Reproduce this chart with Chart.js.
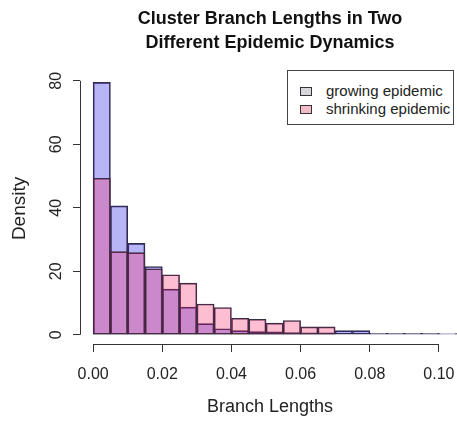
<!DOCTYPE html>
<html>
<head>
<meta charset="utf-8">
<script src="https://cdn.jsdelivr.net/npm/chart.js@4/dist/chart.umd.min.js"></script>
<style>
  html, body { margin: 0; padding: 0; background: #ffffff; overflow: hidden; }
  #wrap { position: relative; width: 457px; height: 422px; overflow: hidden; }
  canvas { position: absolute; left: 0; top: 0; }
  #legend {
    position: absolute; left: 287px; top: 70px; width: 167px; height: 55px;
    border: 1px solid #444; box-sizing: border-box; background: #fff;
    font-family: 'Liberation Sans', Arial, sans-serif; font-size: 15px; color: #222;
  }
  .row { position: absolute; left: 12px; height: 18px; line-height: 18px; white-space: nowrap; }
  .sw { display: inline-block; width: 10px; height: 7px; border: 1px solid #333; margin-right: 14px; vertical-align: middle; position: relative; top: -1px; }
</style>
</head>
<body>
<div id="wrap">
  <canvas id="c" width="460" height="422" style="width:460px;height:422px"></canvas>
  <div id="legend">
    <div class="row" style="top:11px"><span class="sw" style="background:#d8d8dc"></span>growing epidemic</div>
    <div class="row" style="top:29px"><span class="sw" style="background:#f3bccb"></span>shrinking epidemic</div>
  </div>
</div>
<script>
// ---- data (bin width 0.005) ----
const binMids = [0.0025, 0.0075, 0.0125, 0.0175, 0.0225, 0.0275, 0.0325, 0.0375, 0.0425, 0.0475, 0.0525,
                 0.0575, 0.0625, 0.0675, 0.0725, 0.0775, 0.0825, 0.0875, 0.0925, 0.0975, 0.1025, 0.1075];
const growingDensity   = [79.5, 40.6, 28.8, 21.5, 14.4, 8.7, 3.5, 1.9, 1.3, 1.0, 0.9,
                          0.7, 0.6, 0.6, 1.3, 1.3, 0.5, 0.5, 0.5, 0.5, 0.4, 0.4];
const shrinkingDensity = [49.3, 26.2, 25.9, 20.8, 18.9, 16.3, 9.7, 8.6, 5.2, 4.9, 3.7,
                          4.5, 2.5, 2.5];
const seriesNames = ['growing epidemic', 'shrinking epidemic'];
const xTickValues = [0.00, 0.02, 0.04, 0.06, 0.08, 0.10];
const yTickValues = [0, 20, 40, 60, 80];
const titleLines = ['Cluster Branch Lengths in Two', 'Different Epidemic Dynamics'];
const xTitle = 'Branch Lengths';
const yTitle = 'Density';

const FONT = "'Liberation Sans', Arial, Helvetica, sans-serif";

function toPoints(vals) {
  return vals.map((v, i) => ({ x: binMids[i], y: v }));
}

const axisLines = {
  id: 'axisLines',
  afterDraw(chart) {
    const { ctx, chartArea, scales: { x, y } } = chart;
    ctx.save();
    ctx.strokeStyle = '#333';
    ctx.lineWidth = 1;
    ctx.beginPath();
    const xb = Math.round(chartArea.bottom) + 0.5;
    ctx.moveTo(x.getPixelForValue(xTickValues[0]), xb);
    ctx.lineTo(x.getPixelForValue(xTickValues[xTickValues.length - 1]), xb);
    const yl = Math.round(chartArea.left) + 0.5;
    ctx.moveTo(yl, y.getPixelForValue(yTickValues[0]));
    ctx.lineTo(yl, y.getPixelForValue(yTickValues[yTickValues.length - 1]));
    ctx.stroke();
    ctx.restore();
  }
};

new Chart(document.getElementById('c'), {
  type: 'bar',
  data: {
    datasets: [
      {
        label: seriesNames[0],
        data: toPoints(growingDensity),
        backgroundColor: 'rgba(40,30,230,0.33)',
        borderColor: '#342e44',
        borderWidth: 1,
        borderSkipped: false,
        grouped: false,
        barPercentage: 1,
        categoryPercentage: 1,
        order: 2
      },
      {
        label: seriesNames[1],
        data: toPoints(shrinkingDensity),
        backgroundColor: 'rgba(250,20,95,0.28)',
        borderColor: '#342e44',
        borderWidth: 1,
        borderSkipped: false,
        grouped: false,
        barPercentage: 1,
        categoryPercentage: 1,
        order: 1
      }
    ]
  },
  options: {
    responsive: false,
    animation: false,
    devicePixelRatio: 1,
    layout: { padding: 0 },
    plugins: {
      legend: { display: false },
      tooltip: { enabled: false },
      title: {
        display: true,
        text: titleLines,
        fullSize: false,
        color: '#111',
        font: { family: FONT, size: 18, weight: 'bold', lineHeight: 1.33 },
        padding: { top: 7, bottom: 18 }
      }
    },
    scales: {
      x: {
        type: 'linear',
        min: -0.0038,
        max: 0.1061,
        offset: false,
        afterFit(scale) { scale.height = 78; scale.paddingLeft = 0; scale.paddingRight = 0; },
        afterBuildTicks(scale) { scale.ticks = xTickValues.map(v => ({ value: v })); },
        border: { display: false },
        grid: { drawOnChartArea: false, drawTicks: true, tickLength: 8, color: '#333', offset: false },
        ticks: {
          color: '#222',
          font: { family: FONT, size: 16 },
          padding: 13,
          maxRotation: 0,
          autoSkip: false,
          callback: (v) => Number(v).toFixed(2)
        },
        title: {
          display: true, text: xTitle, color: '#222',
          font: { family: FONT, size: 18 },
          padding: { top: 0, bottom: 4 }
        }
      },
      y: {
        min: -2.9,
        max: 82.5,
        afterFit(scale) { scale.width = 80; scale.paddingTop = 0; scale.paddingBottom = 0; },
        afterBuildTicks(scale) { scale.ticks = yTickValues.map(v => ({ value: v })); },
        border: { display: false },
        grid: { drawOnChartArea: false, drawTicks: true, tickLength: 7, color: '#333' },
        ticks: {
          color: '#222',
          font: { family: FONT, size: 16 },
          minRotation: 90,
          maxRotation: 90,
          crossAlign: 'center',
          padding: 8,
          autoSkip: false
        },
        title: {
          display: true, text: yTitle, color: '#222',
          font: { family: FONT, size: 19 },
          padding: { top: 8, bottom: 0 }
        }
      }
    }
  },
  plugins: [axisLines]
});
</script>
</body>
</html>
